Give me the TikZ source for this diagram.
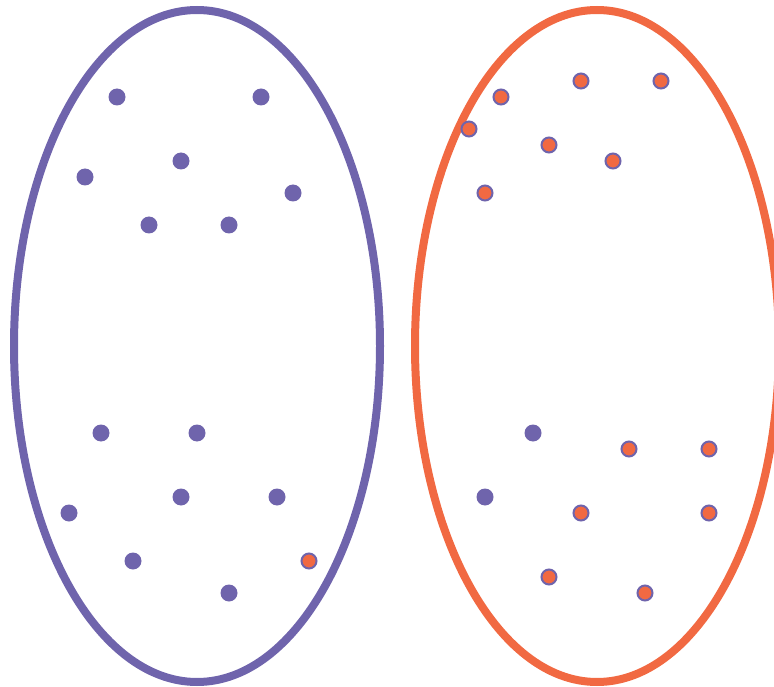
\documentclass[tikz,border=0pt]{standalone}
\definecolor{pur}{RGB}{111,100,172}
\definecolor{org}{RGB}{241,105,66}
\begin{document}
\begin{tikzpicture}[x=1pt,y=-1pt,
  pdot/.style={circle,fill=pur,inner sep=0pt,minimum size=17pt},
  odot/.style={circle,fill=org,draw=pur,line width=2pt,inner sep=0pt,minimum size=15pt},
  setl/.style={line width=8pt}]
\useasboundingbox (0,0) rectangle (774,687);
\draw[setl,draw=pur] (197,346) ellipse [x radius=183, y radius=336];
\draw[setl,draw=org] (597,346) ellipse [x radius=182, y radius=336];
% left set
\foreach \n/\x/\y in {a1/117/97,a2/261/97,a3/85/177,a4/181/161,a5/293/193,a6/149/225,a7/229/225,a8/101/433,a9/197/433,a10/69/513,a11/181/497,a12/277/497,a13/133/561,a14/229/593}
  \node[pdot] (\n) at (\x,\y) {};
\node[odot] (a15) at (309,561) {};
% right set
\foreach \n/\x/\y in {b1/501/97,b2/581/81,b3/661/81,b4/469/129,b5/549/145,b6/613/161,b7/485/193,b8/629/449,b9/709/449,b10/581/513,b11/709/513,b12/549/577,b13/645/593}
  \node[odot] (\n) at (\x,\y) {};
\node[pdot] (b14) at (533,433) {};
\node[pdot] (b15) at (485,497) {};
\end{tikzpicture}
\end{document}
